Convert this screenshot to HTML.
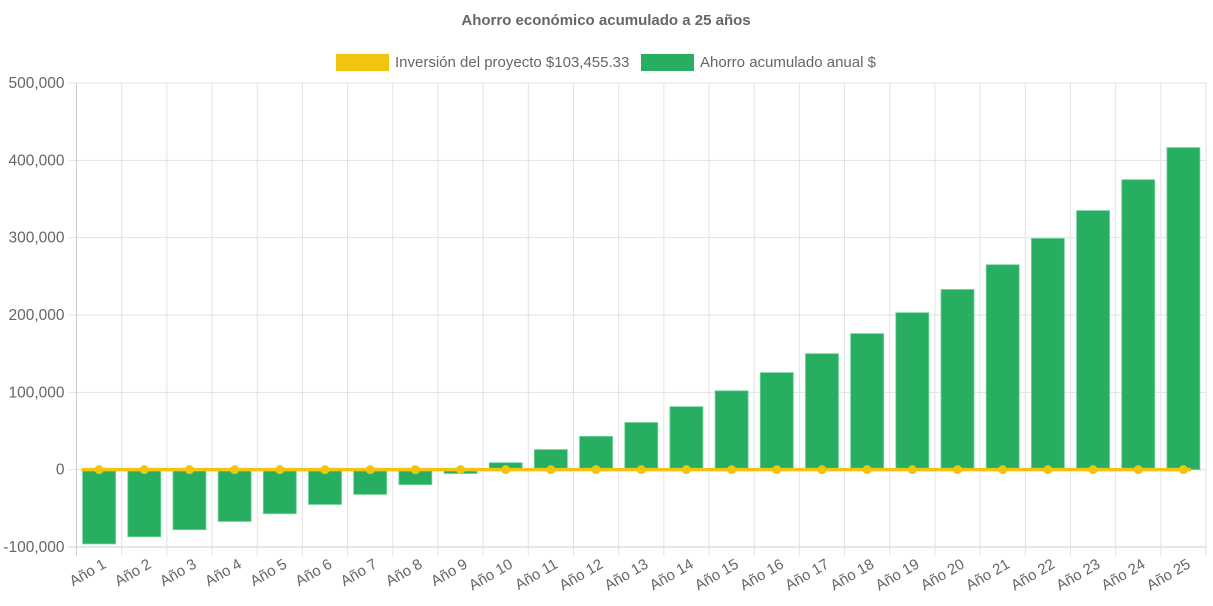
<!DOCTYPE html>
<html><head><meta charset="utf-8"><style>
body{margin:0;background:#fff;font-family:"Liberation Sans",sans-serif}
</style></head><body>
<svg id="c" width="1213" height="606" style="display:block"></svg>
<script>
const categories=["Año 1","Año 2","Año 3","Año 4","Año 5","Año 6","Año 7","Año 8","Año 9","Año 10","Año 11","Año 12","Año 13","Año 14","Año 15","Año 16","Año 17","Año 18","Año 19","Año 20","Año 21","Año 22","Año 23","Año 24","Año 25"];
const savings=[-96000,-86700,-77600,-67000,-57000,-45000,-32000,-19400,-5000,9000,26000,43000,61000,81500,102000,125500,150000,176000,203000,233000,265000,299000,335000,375000,416500];
const investment=[0,0,0,0,0,0,0,0,0,0,0,0,0,0,0,0,0,0,0,0,0,0,0,0,0];
const yTicks=[-100000,0,100000,200000,300000,400000,500000];
const yTickLabels=["-100,000","0","100,000","200,000","300,000","400,000","500,000"];
const NS="http://www.w3.org/2000/svg",svg=document.getElementById('c');
const L=76.5,R=1206,T=83,B=547,yMin=-100000,yMax=500000;
const y=v=>B-(v-yMin)/(yMax-yMin)*(B-T);
const step=(R-L)/categories.length;
const x=i=>L+step*(i+0.5);
function mk(t,a,p){const e=document.createElementNS(NS,t);for(const k in a)e.setAttribute(k,a[k]);(p||svg).appendChild(e);return e;}
let e=mk('text',{x:606,y:25,'text-anchor':'middle','font-size':15,'font-weight':'bold',fill:'#666'});e.textContent='Ahorro económico acumulado a 25 años';


let lg=mk('g',{});


let g1=mk('g',{},lg);


mk('rect',{x:336,y:54,width:53,height:17,fill:'#f1c40f'},g1);
e=mk('text',{x:395,y:67,'font-size':15,fill:'#666'},g1);e.textContent='Inversión del proyecto $103,455.33';
let g2=mk('g',{},lg);


mk('rect',{x:641,y:54,width:53,height:17,fill:'#27ae60'},g2);
e=mk('text',{x:700,y:67,'font-size':15,fill:'#666'},g2);e.textContent='Ahorro acumulado anual $';
let grid=mk('g',{});


yTicks.forEach((v,i)=>{
 mk('line',{x1:L-8,x2:R,y1:y(v),y2:y(v),stroke:v===yMin?'#ccc':'#e2e2e2'},grid);
 const t=mk('text',{x:L-12,y:y(v)+5,'text-anchor':'end','font-size':15.5,fill:'#666'});t.textContent=yTickLabels[i];
 
 
});
for(let i=0;i<=categories.length;i++){
 const xx=L+step*i;mk('line',{x1:xx,x2:xx,y1:T,y2:B+9,stroke:i===0?'#ccc':'#e2e2e2'},grid);
}
categories.forEach((c,i)=>{
 const t=mk('text',{x:x(i)+8,y:B+20,'text-anchor':'end','font-size':15,fill:'#666',transform:`rotate(-30 ${x(i)+8} ${B+20})`});t.textContent=c;
 
 
});
const bw=33;
savings.forEach((v,i)=>{
 const y0=y(0),y1=y(v);
 const r=mk('rect',{x:x(i)-bw/2,y:Math.min(y0,y1),width:bw,height:Math.abs(y1-y0),fill:'#27ae60',stroke:'#6fd49a','stroke-width':0.8});
 
 
});
const pts=investment.map((v,i)=>x(i)+','+y(v)).join(' ');
const pl=mk('polyline',{points:`${L+5},${y(investment[0])} ${pts} ${R-15},${y(investment[investment.length-1])}`,fill:'none',stroke:'#f1c40f','stroke-width':3.5});


investment.forEach((v,i)=>{
 const c=mk('circle',{cx:x(i),cy:y(v),r:4.5,fill:'#f1c40f'});
 
 
});
</script>
</body></html>
